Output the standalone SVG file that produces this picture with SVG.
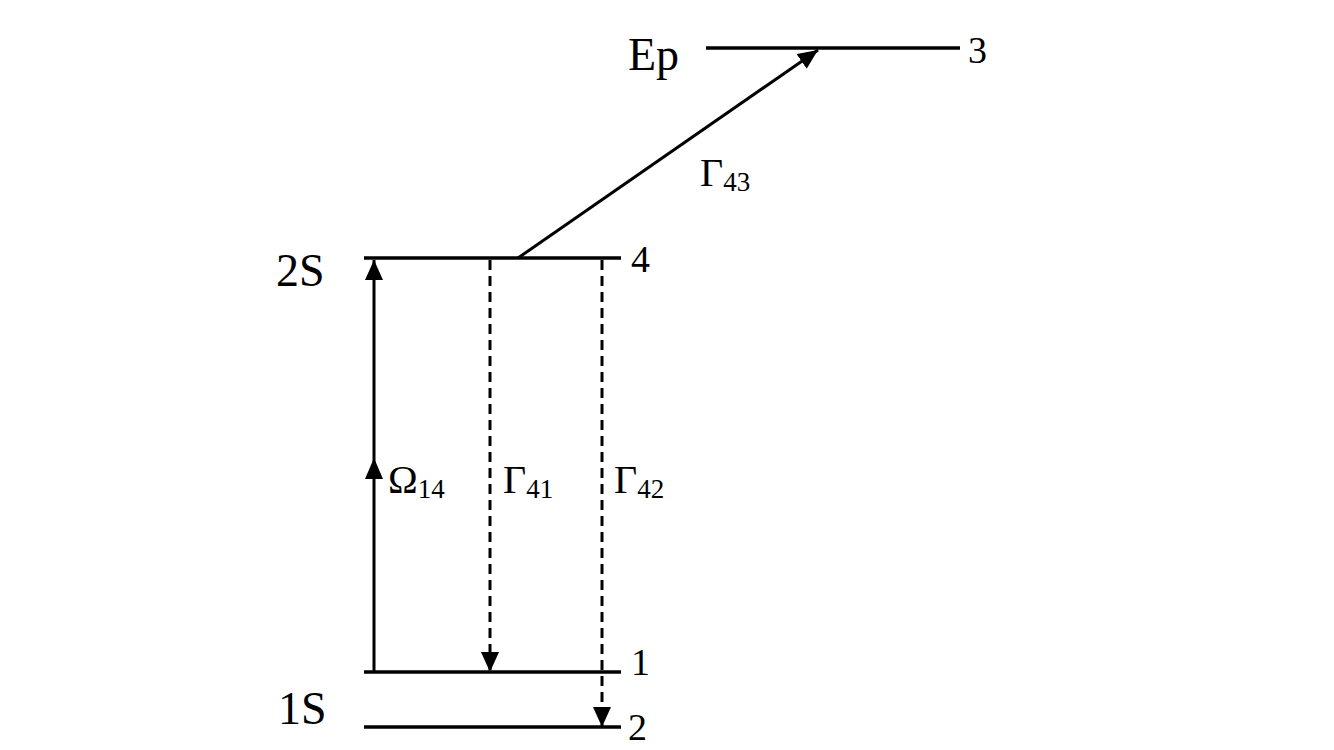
<svg xmlns="http://www.w3.org/2000/svg" width="1334" height="750" viewBox="0 0 1334 750">
<style>
text{font-family:"Liberation Serif",serif;fill:#000}
.lv{stroke:#000;stroke-width:3.5}
.c{stroke:#000;stroke-width:3;fill:none}
.d{stroke-dasharray:10,6}
.big{font-size:46px}
.num{font-size:38px}
.g{font-size:40px}
.s{font-size:27px}
</style>
<defs>
<marker id="a" viewBox="0 0 10 10" refX="10" refY="5" markerWidth="6" markerHeight="6" markerUnits="userSpaceOnUse" orient="auto"><path d="M0,0L10,5L0,10z" fill="#000"/></marker>
<marker id="ah" viewBox="0 0 20 18" refX="20" refY="9" markerWidth="20" markerHeight="18" markerUnits="userSpaceOnUse" orient="auto"><path d="M0,0L20,9L0,18z" fill="#000"/></marker>
</defs>
<rect width="1334" height="750" fill="#fff"/>
<g id="level3"><line class="lv" x1="706" y1="48" x2="960" y2="48"/><text class="big" x="628" y="70">Ep</text><text class="num" x="968" y="63">3</text></g>
<g id="level4"><line class="lv" x1="364" y1="258" x2="621" y2="258"/><text class="big" x="276" y="286">2S</text><text class="num" x="631" y="272">4</text></g>
<g id="level1"><line class="lv" x1="364" y1="672" x2="621" y2="672"/><text class="num" x="631" y="675">1</text></g>
<g id="level2"><line class="lv" x1="364" y1="727" x2="621" y2="727"/><text class="big" x="278" y="724">1S</text><text class="num" x="628" y="740">2</text></g>
<g id="connectors">
<line class="c" x1="374" y1="672" x2="374" y2="260" marker-end="url(#ah)"/>
<path d="M365,479L374,458L383,479z" fill="#000"/>
<line class="c d" x1="490" y1="260" x2="490" y2="672" marker-end="url(#ah)"/>
<line class="c d" x1="602" y1="260" x2="602" y2="727" marker-end="url(#ah)"/>
<line class="c" x1="518" y1="258" x2="818" y2="50" marker-end="url(#ah)"/>
</g>
<g id="labels">
<text x="388" y="493"><tspan class="g">Ω</tspan><tspan class="s" dy="5">14</tspan></text>
<text x="503" y="493"><tspan class="g">Γ</tspan><tspan class="s" dy="5">41</tspan></text>
<text x="614" y="493"><tspan class="g">Γ</tspan><tspan class="s" dy="5">42</tspan></text>
<text x="700" y="186"><tspan class="g">Γ</tspan><tspan class="s" dy="5">43</tspan></text>
</g>
</svg>
